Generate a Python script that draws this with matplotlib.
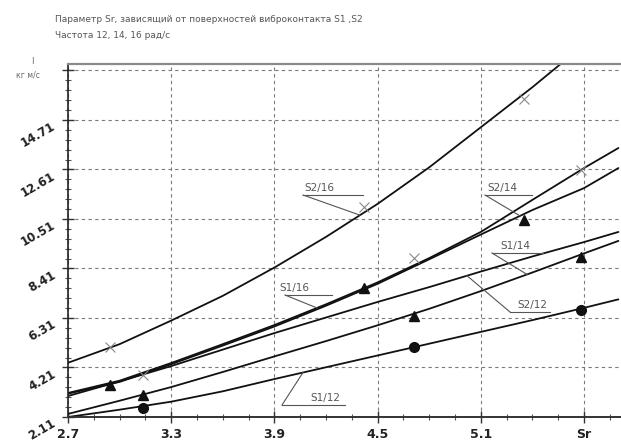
import numpy as np
import matplotlib
matplotlib.use("Agg")
import matplotlib.pyplot as plt
from matplotlib.ticker import FixedLocator

# ---------------- data ----------------
x_grid = [2.7, 3.0, 3.3, 3.6, 3.9, 4.2, 4.5, 4.8, 5.1, 5.4, 5.7, 5.9]

S2_16 = [4.41, 5.20, 6.20, 7.25, 8.45, 9.75, 11.15, 12.70, 14.40, 16.10, 17.90, 19.20]
S1_16 = [3.13, 3.65, 4.40, 5.20, 6.01, 6.89, 7.82, 8.85, 9.96, 11.32, 12.67, 13.52]
S2_14 = [3.10, 3.60, 4.35, 5.14, 5.95, 6.83, 7.76, 8.80, 9.85, 10.89, 11.82, 12.67]
S2_12 = [3.00, 3.62, 4.27, 4.97, 5.67, 6.33, 6.99, 7.62, 8.28, 8.92, 9.53, 9.96]
S1_14 = [2.24, 2.80, 3.38, 4.02, 4.68, 5.33, 6.00, 6.70, 7.45, 8.24, 9.05, 9.58]
S1_12 = [2.11, 2.42, 2.76, 3.20, 3.72, 4.22, 4.72, 5.22, 5.72, 6.22, 6.74, 7.10]

# measured points (markers)
s2_mark_x = [2.945, 4.42, 5.35]
s1_mark_x = [3.135, 4.71, 5.68]
S2_16_pts = [5.08, 11.00, 15.60]
S1_16_pts = [3.89, 8.85, 12.59]
S2_14_pts = [3.47, 7.58, 10.47]
S1_14_pts = [3.04, 6.39, 8.90]
S1_12_pts = [2.49, 5.08, 6.65]

x_ticks = [2.7, 3.3, 3.9, 4.5, 5.1, 5.7]
x_tick_labels = ["2.7", "3.3", "3.9", "4.5", "5.1", "Sr"]
y_ticks = [2.11, 4.21, 6.31, 8.41, 10.51, 12.61, 14.71, 16.81]
y_tick_labels = ["2.11", "4.21", "6.31", "8.41", "10.51", "12.61", "14.71", ""]

title_lines = ["Параметр Sr, зависящий от поверхностей виброконтакта S1 ,S2",
               "Частота 12, 14, 16 рад/с"]

# ---------------- figure ----------------
W, H = 621, 446
fig = plt.figure(figsize=(W / 100, H / 100), dpi=100)
ax = fig.add_axes([68 / W, 29 / H, 553 / W, 353 / H])
ax.set_xlim(2.7, 2.7 + 553 / 172.0)
ax.set_ylim(2.11, 2.11 + 353 * 0.04242)

ax.xaxis.set_major_locator(FixedLocator(x_ticks))
ax.set_xticklabels(x_tick_labels)
ax.xaxis.set_minor_locator(FixedLocator(np.arange(2.7, 5.95, 0.15)))
ax.yaxis.set_major_locator(FixedLocator(y_ticks))
ax.set_yticklabels(y_tick_labels)
ax.yaxis.set_minor_locator(FixedLocator(np.arange(2.11, 17.1, 0.42)))

ax.grid(True, which="major", color="#7a7a7a", linestyle=(0, (3, 3)), linewidth=0.8)
ax.set_axisbelow(True)

ax.tick_params(which="major", direction="inout", length=8, width=1, color="#333")
ax.tick_params(which="minor", direction="inout", length=4, width=0.8, color="#555")
ax.tick_params(axis="x", which="major", labelsize=9, pad=4, labelcolor="#222")
ax.tick_params(axis="y", which="major", labelsize=8.5, pad=8, labelcolor="#222")
for lab in ax.get_xticklabels():
    lab.set_fontweight("bold")
for lab in ax.get_yticklabels():
    lab.set_fontweight("bold")
    lab.set_rotation(30)
    lab.set_rotation_mode("anchor")
    lab.set_ha("right")
    lab.set_va("top")

ax.spines["right"].set_visible(False)
ax.spines["top"].set_color("#8a8a8a")
ax.spines["top"].set_linewidth(1.6)
ax.spines["left"].set_color("#222")
ax.spines["left"].set_linewidth(1.2)
ax.spines["bottom"].set_color("#333")
ax.spines["bottom"].set_linewidth(1.4)

# curves
curves = {"S2/16": S2_16, "S1/16": S1_16, "S2/14": S2_14,
          "S2/12": S2_12, "S1/14": S1_14, "S1/12": S1_12}
for name, vals in curves.items():
    ax.plot(x_grid, vals, color="#111", linewidth=1.3, solid_capstyle="round")

# markers
ax.plot(s2_mark_x, S2_16_pts, linestyle="none", marker="x", ms=7, mew=0.8, color="#888")
ax.plot(s1_mark_x, S1_16_pts, linestyle="none", marker="x", ms=7, mew=0.8, color="#888")
ax.plot(s2_mark_x, S2_14_pts, linestyle="none", marker="^", ms=7, color="#111")
ax.plot(s1_mark_x, S1_14_pts, linestyle="none", marker="^", ms=7, color="#111")
ax.plot(s1_mark_x, S1_12_pts, linestyle="none", marker="o", ms=7, color="#111")

# labels with underline + leader
def px2x(px):
    return 2.7 + (px - 68) / 172.0

def py2y(py):
    return 2.11 + (417 - py) * 0.04242

label_specs = [
    # name, underline x0, x1, y (px), leader target x (px), text x (px)
    ("S2/16", 303, 363, 195, 360, 304),
    ("S2/14", 485, 532, 195, 520, 487),
    ("S1/14", 492, 543, 253, 527, 500),
    ("S1/16", 285, 332, 295, 317, 279),
    ("S2/12", 510, 550, 312, 467, 517),
    ("S1/12", 282, 345, 405, 303, 310),
]
for name, u0, u1, uy, tx, textx in label_specs:
    vals = curves[name]
    xt = px2x(tx)
    yt = np.interp(xt, x_grid, vals)
    ax.plot([px2x(u0), px2x(u1)], [py2y(uy), py2y(uy)], color="#555", lw=0.8)
    ax.plot([px2x(u0), xt], [py2y(uy), yt], color="#555", lw=0.8)
    ax.text(px2x(textx), py2y(uy - 2), name, fontsize=7.5, color="#555",
            ha="left", va="bottom")

# title and axis unit
fig.text(55 / W, 1 - 19 / H, title_lines[0], fontsize=6.5, color="#555", va="center")
fig.text(55 / W, 1 - 35 / H, title_lines[1], fontsize=6.5, color="#555", va="center")
fig.text(32 / W, 1 - 61 / H, "I", fontsize=6, color="#666", ha="center", va="center")
fig.text(28 / W, 1 - 75 / H, "кг м/с", fontsize=5.5, color="#666", ha="center", va="center")

fig.savefig("out.png", dpi=100)
